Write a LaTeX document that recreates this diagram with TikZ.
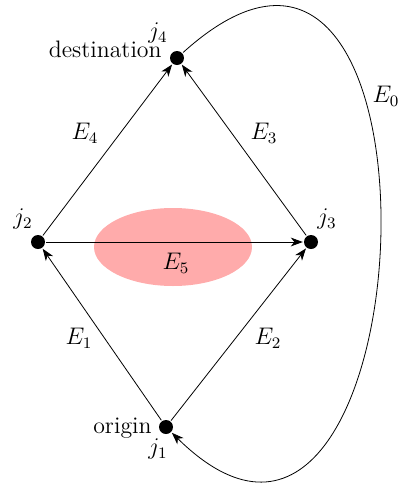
\documentclass[tikz,border=0pt]{standalone}
\usetikzlibrary{arrows.meta}
\begin{document}
\begin{tikzpicture}[x=0.5pt,y=-0.5pt,
  every node/.style={font=\fontsize{11.9}{14}\selectfont},
  vert/.style={circle,fill=black,inner sep=0pt,minimum size=7pt,outer sep=0.6pt},
  edge/.style={-{Stealth[length=6pt,width=4.4pt,inset=1.8pt]},line width=0.4pt},
  lab/.style={inner sep=0pt}]
\useasboundingbox (0,0) rectangle (403,483);
\fill[red!33] (173,247) ellipse [x radius=79, y radius=39];
\node[vert] (j4) at (177,58) {};
\node[vert] (j2) at (38,242) {};
\node[vert] (j3) at (311,242) {};
\node[vert] (j1) at (166,427) {};
\node[lab] (lj4) at (158,33) {$j_4$};
\node[lab,anchor=east] (ldest) at (162,49) {destination};
\node[lab] (lj2) at (23,219) {$j_2$};
\node[lab] (lj3) at (327,219) {$j_3$};
\node[lab,anchor=east] (lorig) at (152,428) {origin};
\node[lab] (lj1) at (158,449) {$j_1$};
\node[lab] (e4) at (85,133) {$E_4$};
\node[lab] (e3) at (264,133) {$E_3$};
\node[lab] (e5) at (176,263) {$E_5$};
\node[lab] (e1) at (79,338) {$E_1$};
\node[lab] (e2) at (268,338) {$E_2$};
\node[lab] (e0) at (386,96) {$E_0$};
\draw[edge] (j1) -- (j2);
\draw[edge] (j1) -- (j3);
\draw[edge] (j2) -- (j4);
\draw[edge] (j3) -- (j4);
\draw[edge] (j2) -- (j3);
\draw[edge] (j4) .. controls +(290,-262) and +(262,258) .. (j1);
\end{tikzpicture}
\end{document}
